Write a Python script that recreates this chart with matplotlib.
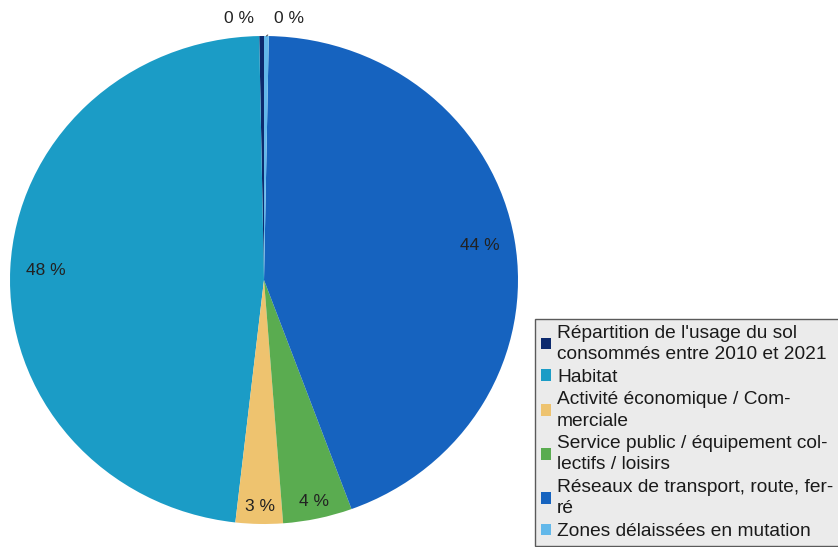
import matplotlib
matplotlib.use("Agg")
import matplotlib.pyplot as plt
from matplotlib.patches import Patch
import numpy as np

plt.rcParams['font.family'] = ['Liberation Sans', 'DejaVu Sans']

categories = [
    "Répartition de l'usage du sol\nconsommés entre 2010 et 2021",
    "Habitat",
    "Activité économique / Com-\nmerciale",
    "Service public / équipement col-\nlectifs / loisirs",
    "Réseaux de transport, route, fer-\nré",
    "Zones délaissées en mutation",
]
values = [0.3, 47.9, 3.0, 4.4, 44.1, 0.3]
labels = ["0 %", "48 %", "3 %", "4 %", "44 %", "0 %"]
colors = ["#0d2a6e", "#1b9cc6", "#eec36f", "#5aac50", "#1663bf", "#62b8ea"]

fig = plt.figure(figsize=(8.38, 5.47), dpi=100)
# pie area, slightly wider than tall like the scan
ax = fig.add_axes([10 / 838, 1 - 524 / 547, 508 / 838, 488 / 547])

wedges, _ = ax.pie(values, colors=colors, startangle=90, counterclock=True,
                   radius=1, wedgeprops=dict(linewidth=0))
ax.set_aspect('auto')
ax.set_xlim(-1, 1)
ax.set_ylim(-1, 1)
ax.axis('off')

# inside labels
for w, lab, v in zip(wedges, labels, values):
    if v < 1:
        continue
    theta = np.deg2rad((w.theta1 + w.theta2) / 2)
    r = 0.86 if v > 10 else 0.93
    ax.text(r * np.cos(theta), r * np.sin(theta), lab, ha='center', va='center',
            fontsize=12.5, color='#222222')

# the two 0 % labels above the pie
ax.text(-0.1, 1.07, labels[0], ha='center', va='center', fontsize=12.5, color='#222222')
t5 = np.deg2rad((wedges[5].theta1 + wedges[5].theta2) / 2)
ax.annotate(labels[5], xy=(np.cos(t5), np.sin(t5)), xytext=(0.1, 1.07),
            ha='center', va='center', fontsize=12.5, color='#222222',
            arrowprops=dict(arrowstyle='-', color='#555555', lw=0.8,
                            shrinkA=7, shrinkB=0))

handles = [Patch(facecolor=c, edgecolor='none') for c in colors]
leg = fig.legend(handles, categories, loc='upper left',
                 bbox_to_anchor=(535 / 838, 1 - 319 / 547),
                 fontsize=13.8, frameon=True, fancybox=False,
                 handlelength=0.55, handleheight=0.55, handletextpad=0.3,
                 labelspacing=0.3, borderpad=0.3, borderaxespad=0)
leg.get_frame().set_facecolor('#e6e6e6')
leg.get_frame().set_edgecolor('#333333')
leg.get_frame().set_linewidth(1.0)
for t in leg.get_texts():
    t.set_color('#1a1a1a')
    t.set_linespacing(1.32)

fig.savefig("out.png", dpi=100)
